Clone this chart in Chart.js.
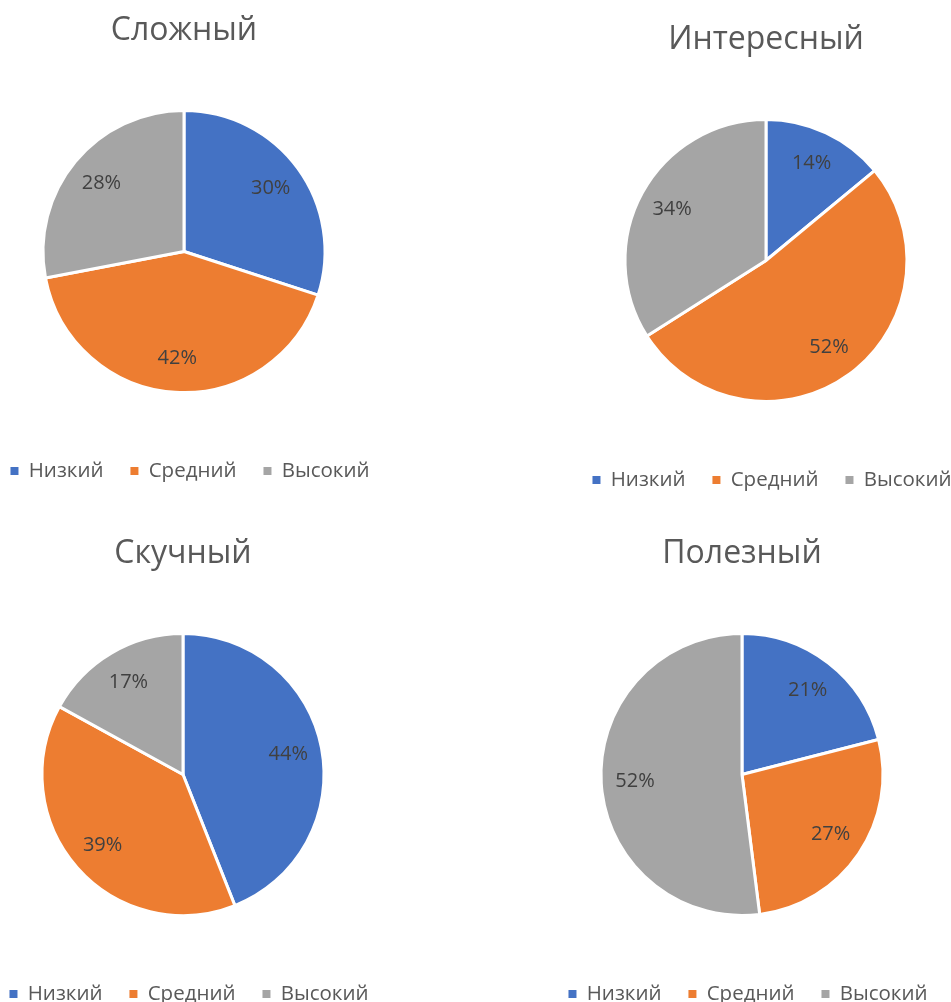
<!DOCTYPE html>
<html>
<head>
<meta charset="utf-8">
<script src="https://cdn.jsdelivr.net/npm/chart.js@4"></script>
<style>
  html, body { margin: 0; padding: 0; background: #fff; overflow: hidden; width: 951px; height: 1002px; }
  .box { position: absolute; width: 440px; height: 500px; }
</style>
</head>
<body>
<div class="box" style="left:-36px;top:0px"><canvas id="pieHard"></canvas></div>
<div class="box" style="left:546px;top:9px"><canvas id="pieInteresting"></canvas></div>
<div class="box" style="left:-37px;top:523px"><canvas id="pieBoring"></canvas></div>
<div class="box" style="left:522px;top:523px"><canvas id="pieUseful"></canvas></div>
<script>
// Answer levels shared by all four pies
const categories = ['Низкий', 'Средний', 'Высокий'];

// Chart titles, one per pie
const titles = ['Сложный', 'Интересный', 'Скучный', 'Полезный'];

// Share of answers per level, in percent
const valuesHard = [30, 42, 28];         // Сложный
const valuesInteresting = [14, 52, 34];  // Интересный
const valuesBoring = [44, 39, 17];       // Скучный
const valuesUseful = [21, 27, 52];       // Полезный

const sliceColors = ['#4472C4', '#ED7D31', '#A5A5A5'];

Chart.defaults.font.family = '"Open Sans", "Noto Sans", sans-serif';

// Percentage labels placed inside each slice along its middle angle
const sliceLabels = {
  id: 'sliceLabels',
  afterDatasetsDraw(chart) {
    const ctx = chart.ctx;
    const meta = chart.getDatasetMeta(0);
    const data = chart.data.datasets[0].data;
    const total = data.reduce((a, b) => a + b, 0);
    ctx.save();
    ctx.font = '20px "Open Sans", "Noto Sans", sans-serif';
    ctx.fillStyle = '#404040';
    ctx.textAlign = 'center';
    ctx.textBaseline = 'middle';
    meta.data.forEach((arc, i) => {
      const p = arc.getProps(['x', 'y', 'startAngle', 'endAngle', 'outerRadius'], true);
      const mid = (p.startAngle + p.endAngle) / 2;
      const r = p.outerRadius * 0.76;
      const text = Math.round(data[i] / total * 100) + '%';
      ctx.fillText(text, p.x + Math.cos(mid) * r, p.y + Math.sin(mid) * r);
    });
    ctx.restore();
  }
};

// Nudge the legend row a little to the right of the pie centre
const legendShift = {
  id: 'legendShift',
  afterLayout(chart) {
    const lg = chart.legend;
    if (lg) { lg.left += 6; lg.right += 6; }
  }
};

const baseLegendLabels = Chart.overrides.pie.plugins.legend.labels.generateLabels;

function makePie(canvasId, title, values) {
  return new Chart(document.getElementById(canvasId), {
    type: 'pie',
    data: {
      labels: categories,
      datasets: [{
        data: values,
        backgroundColor: sliceColors,
        borderColor: '#ffffff',
        borderWidth: 3
      }]
    },
    options: {
      responsive: true,
      maintainAspectRatio: false,
      animation: false,
      radius: 141,
      layout: { padding: { top: 0, bottom: 8.75, left: 0, right: 0 } },
      plugins: {
        title: {
          display: true,
          text: title,
          color: '#595959',
          font: { size: 32, weight: 'normal' },
          padding: { top: 12, bottom: 18.85 }
        },
        legend: {
          position: 'bottom',
          labels: {
            boxWidth: 8,
            boxHeight: 8,
            padding: 27,
            color: '#595959',
            font: { size: 20.5 },
            generateLabels: (chart) => baseLegendLabels(chart).map(l => ({ ...l, lineWidth: 0 }))
          }
        },
        tooltip: { enabled: false }
      }
    },
    plugins: [sliceLabels, legendShift]
  });
}

makePie('pieHard', titles[0], valuesHard);
makePie('pieInteresting', titles[1], valuesInteresting);
makePie('pieBoring', titles[2], valuesBoring);
makePie('pieUseful', titles[3], valuesUseful);
</script>
</body>
</html>
